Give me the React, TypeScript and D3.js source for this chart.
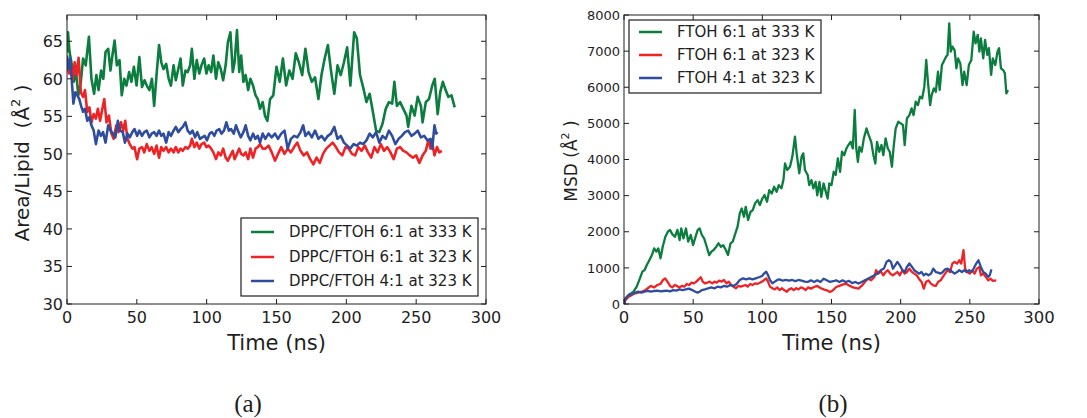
import React from "react";
import * as d3 from "d3";

// ---------- data: (time ns, value) pairs ----------
type Pt = [number, number];

const timeTicks = [0, 50, 100, 150, 200, 250, 300];
const areaTicks = [30, 35, 40, 45, 50, 55, 60, 65];
const msdTicks = [0, 1000, 2000, 3000, 4000, 5000, 6000, 7000, 8000];

const areaLabels = ["DPPC/FTOH 6:1 at 333 K", "DPPC/FTOH 6:1 at 323 K", "DPPC/FTOH 4:1 at 323 K"];
const msdLabels = ["FTOH 6:1 at 333 K", "FTOH 6:1 at 323 K", "FTOH 4:1 at 323 K"];

// Area per lipid (Å^2)
const area61at333: Pt[] = [
  [0, 63.5], [0.7, 66.2], [1.8, 63.6], [3.5, 61.8], [4.8, 59.6], [6.5, 60.9], [8.1, 57.8], [9.9, 59.6],
  [11.5, 62.7], [13.4, 61.8], [15.7, 65.6], [17.5, 60], [19.4, 58], [21, 60.5], [22.6, 58.5], [24.4, 61.1],
  [26, 60], [27.6, 63.6], [29.5, 64], [31.1, 61.1], [32.5, 63.1], [34.1, 65.1], [35.7, 61.8], [37.6, 62.5],
  [39.2, 57.8], [41, 60], [42.6, 59.1], [44.5, 60.9], [46.1, 59.6], [47.9, 61.6], [49.8, 59.1], [51.8, 62.9],
  [53.7, 58.9], [55.5, 59.8], [57.1, 59.1], [59, 58.5], [60.8, 60], [62.4, 56.4], [64.1, 60.5], [65.9, 64.5],
  [67.5, 62.2], [69.1, 61.3], [71, 62], [72.8, 60], [74.4, 59.1], [76.3, 61.8], [77.9, 59.8], [79.7, 61.3],
  [81.3, 62.7], [82.9, 59.1], [84.8, 61.1], [86.4, 60.9], [88.2, 61.8], [89.4, 64], [91.2, 60], [92.9, 62.5],
  [94.7, 60.7], [96.3, 61.8], [98.2, 62.7], [99.8, 60.7], [101.4, 61.8], [103.2, 60.9], [104.8, 63.1], [106.7, 60],
  [108.3, 62.2], [110.1, 61.3], [111.8, 59.8], [113.6, 61.8], [115.2, 64.9], [117, 66.2], [118.7, 60.9], [120, 62.2],
  [121.7, 66.5], [123.3, 60.9], [124.7, 63.1], [126.3, 59.6], [127.9, 60.5], [129.7, 58.5], [131.3, 60], [133.2, 59.1],
  [135, 57.8], [136.6, 57.3], [138.2, 56], [140.1, 56.9], [141.7, 55.1], [143.5, 54.4], [145.4, 57.3], [147.7, 57.8],
  [150, 61.6], [152.3, 59.6], [154.6, 62.7], [156.9, 59.1], [159.2, 61.1], [161.5, 60], [163.8, 63.4], [166, 62.2],
  [168.4, 60.5], [170.7, 64], [173, 60.9], [175.3, 59.6], [177.6, 60.2], [180, 57.3], [182.2, 60.5], [184.5, 62.7],
  [186.8, 64.5], [189, 61.1], [191.4, 58], [193.7, 61.8], [196, 60.5], [198.3, 62.2], [200.6, 64.2], [202.9, 59.1],
  [205.6, 66.2], [207.5, 65.4], [209.8, 60.5], [212, 58.9], [214.4, 56.9], [216.7, 58], [219, 55.6], [221.3, 53.1],
  [223.6, 52.9], [225.9, 54], [228.2, 56], [230.5, 56.9], [232.8, 56.7], [234.4, 59.6], [236.2, 56.4], [238.5, 56.9],
  [240.8, 56], [243.1, 55.1], [244.3, 53.6], [246.6, 56.4], [248.9, 55.1], [251.1, 57.6], [253.4, 56.4], [254.6, 54.2],
  [256.9, 56.9], [259.2, 57.3], [261.5, 59.1], [263.3, 60], [265.4, 55.3], [267.2, 58.2], [269.1, 59.6], [271.1, 58.5],
  [273, 57.6], [275.3, 57.8], [277.6, 56.2],
];

const area61at323: Pt[] = [
  [0, 62.2], [1.4, 60.7], [2.8, 61.8], [4.1, 59.8], [5.5, 62.2], [6.9, 60.5], [8.3, 62.8], [9.9, 58.2],
  [11.5, 57.6], [12.9, 58.5], [14.5, 55.6], [16.1, 56.2], [17.5, 54.2], [19.1, 55.3], [20.7, 54.7], [22.1, 56],
  [23.7, 54.4], [24.9, 55.6], [26.7, 57.3], [28.3, 54.2], [30, 55.1], [31.8, 52.7], [33.4, 52], [35.3, 53.8],
  [36.9, 52.9], [38.7, 54.2], [40.3, 53.1], [41.7, 54.4], [43.3, 52], [44.9, 51.3], [46.8, 50.7], [48.3, 50.9],
  [50.2, 49.3], [51.8, 50.7], [53.7, 50.9], [55.3, 50.2], [57.1, 51.3], [59, 50.4], [60.6, 50.9], [62.4, 50],
  [64.1, 51.1], [65.9, 49.5], [67.5, 50.9], [69.1, 50.4], [71, 50.9], [72.8, 50.2], [74.4, 50.7], [76.3, 50.2],
  [77.9, 50.9], [79.7, 50.2], [81.3, 50.7], [82.9, 50.4], [84.8, 50.9], [86.4, 50.7], [88.2, 51.1], [89.4, 52],
  [91.2, 50.9], [92.9, 51.5], [94.7, 50.7], [96.3, 51.3], [98.2, 51.5], [99.8, 50.9], [101.4, 51.1], [103.2, 50.7],
  [104.8, 50.2], [106.7, 49.3], [108.3, 50.2], [110.1, 49.8], [111.8, 50.7], [113.6, 49.5], [115.2, 49.1], [117, 49.8],
  [118.7, 50.4], [120, 49.3], [121.7, 50], [123.3, 50.7], [124.7, 50], [126.3, 49.8], [127.9, 50.2], [129.7, 49.3],
  [131.3, 50.7], [133.2, 49.5], [135, 50.7], [136.6, 50.9], [138.2, 51.3], [140.1, 50.7], [142, 50.7], [144.3, 51.1],
  [146.6, 50.2], [148.9, 49.1], [151.1, 50], [153.4, 50.9], [155.7, 50], [158, 50.7], [160.3, 50.2], [162.6, 50.9],
  [164.9, 51.5], [167.2, 50.4], [169.5, 49.8], [171.8, 50.2], [174.1, 49.3], [176.4, 48.6], [178.7, 49.5], [181, 48.8],
  [183.3, 50], [185.6, 50.7], [187.9, 51.1], [190.2, 51.5], [192.5, 50.9], [194.8, 50.2], [197.1, 49.8], [199.4, 50.9],
  [201.7, 50.7], [204, 50], [206.3, 49.8], [208.6, 50.9], [210.9, 50.4], [213.2, 51.1], [215.5, 50.2], [217.8, 49.5],
  [220.1, 50.9], [222.4, 50.2], [224.7, 51.3], [227, 50.4], [229.3, 50.9], [231.6, 50.2], [233.9, 49.3], [236.2, 50.7],
  [238.5, 50.9], [240.8, 50.4], [243.1, 50.2], [245.4, 49.8], [247.7, 49.5], [250, 49.8], [252.3, 48.8], [254.6, 49.8],
  [256.9, 50.4], [258.7, 51.8], [260.3, 50.7], [261.5, 51.5], [263.1, 49.8], [264.9, 50.9], [266.6, 50.2], [268.4, 50.4],
];

const area41at323: Pt[] = [
  [0, 63.1], [1.2, 61.3], [2.3, 62.7], [3.5, 59.6], [4.6, 56.7], [6, 58.2], [7.4, 57.8], [8.8, 57.3],
  [10.1, 56.4], [11.5, 55.6], [12.9, 56], [14.5, 54.4], [16.1, 54.9], [17.5, 53.8], [19.1, 53.1], [20.7, 51.3],
  [22.6, 53.1], [24.2, 52.4], [25.8, 52.9], [27.6, 51.5], [29.5, 53.8], [31.1, 53.1], [32.9, 52.7], [34.6, 52.2],
  [36.4, 54.4], [38, 53.1], [39.9, 52.9], [41.5, 51.5], [43.3, 52.7], [44.9, 52.2], [46.8, 52.9], [48.3, 53.3],
  [50.2, 52.4], [51.8, 53.1], [53.7, 52.4], [55.3, 52.9], [57.1, 53.1], [59, 52.2], [60.6, 52.7], [62.4, 52.9],
  [64.1, 52.4], [65.9, 53.1], [67.5, 52.4], [69.1, 52.7], [71, 51.5], [72.8, 52.9], [74.4, 52.4], [76.3, 53.1],
  [77.9, 53.6], [79.7, 52.9], [81.3, 53.3], [82.9, 53.6], [84.8, 54.2], [86.4, 53.1], [88.2, 52.7], [89.9, 53.1],
  [91.7, 52.2], [93.3, 52.9], [95.2, 52], [96.8, 52.2], [98.6, 52.4], [100.2, 51.8], [102.1, 52.7], [103.7, 52.9],
  [105.5, 52.4], [107.1, 53.1], [109, 53.3], [110.6, 52.7], [112.4, 53.1], [114.1, 54.2], [115.9, 53.1], [117.5, 53.3],
  [119.4, 52.7], [121, 53.8], [122.8, 52.9], [124.4, 52.2], [126.3, 52.9], [127.9, 53.8], [129.7, 52.4], [131.3, 51.8],
  [133.2, 52.7], [134.8, 52], [136.6, 52.4], [138.2, 51.5], [140.1, 52.7], [142, 52], [144.3, 52.7], [146.6, 52.2],
  [148.9, 52.7], [151.1, 52], [153.4, 52.7], [155.7, 53.1], [158, 50.7], [160.3, 52], [162.6, 52.4], [164.9, 52.2],
  [167.2, 52.9], [169.1, 53.8], [170.7, 52.4], [173, 52.9], [175.3, 52.2], [177.6, 53.1], [180, 52], [182.2, 52.4],
  [184.5, 51.8], [186.8, 52.4], [189, 52.7], [191.4, 53.6], [193.7, 52], [196, 52.4], [198.3, 51.5], [200.6, 51.1],
  [202.9, 50.7], [205.2, 51.3], [207.5, 51.1], [209.8, 51.5], [212, 51.3], [214.4, 51.8], [216.7, 52.7], [219, 52.2],
  [221.3, 52.9], [223.6, 51.5], [225.9, 52.4], [228.2, 52], [230.5, 53.1], [232.8, 52.4], [235.1, 51.3], [237.4, 52],
  [239.7, 52.4], [242, 52.9], [244.3, 53.1], [246.6, 52.4], [248.9, 52.7], [251.1, 53.1], [253.4, 52.2], [255.7, 52.4],
  [258, 51.8], [260.3, 52], [261.5, 50.7], [263.1, 53.8], [264.3, 52.7], [265.4, 52.9],
];

// Mean square displacement (Å^2)
const msd61at333: Pt[] = [
  [0, 0], [1.1, 157], [3.4, 250], [6.9, 340], [9.2, 480], [11.5, 710], [13.3, 895], [14.9, 940],
  [16.5, 1080], [18.4, 1220], [20.2, 1355], [21.8, 1540], [23.4, 1450], [24.8, 1540], [26.4, 1265], [28, 1585],
  [29.9, 1860], [31.7, 2000], [33.3, 2050], [34.9, 1935], [36.8, 1860], [38.6, 2050], [40.2, 1770], [41.4, 2090],
  [43, 1815], [44.8, 2090], [46.4, 1725], [48.3, 1910], [49.9, 1630], [51.7, 1860], [53.3, 2050], [54.7, 2090],
  [56.3, 1910], [57.9, 1815], [59.8, 1585], [61.6, 1355], [63.2, 1450], [64.8, 1495], [66.7, 1585], [68.3, 1680],
  [70.1, 1585], [71.7, 1630], [73.6, 1495], [75.2, 1355], [77, 1680], [78.6, 1725], [80.5, 1955], [82.1, 2140],
  [83.7, 2510], [85.1, 2645], [86.7, 2415], [88, 2690], [89.7, 2325], [91.5, 2555], [93.1, 2600], [94.7, 2785],
  [96.6, 2875], [98.2, 2740], [100, 2920], [101.6, 3015], [103.4, 2830], [105, 3150], [106.9, 3060], [108.5, 3245],
  [110.3, 3105], [111.9, 3290], [113.8, 3200], [115.3, 3450], [116.4, 3895], [118, 3710], [120, 3800], [121.7, 4080],
  [123.6, 4630], [124.8, 4170], [126.7, 3620], [128.4, 4080], [129.6, 4170], [130.8, 3710], [132.8, 3570], [133.9, 3290],
  [135.5, 3430], [136.9, 3200], [138.5, 3380], [139.7, 3010], [141.3, 3380], [142.6, 2965], [144.3, 3335], [145.9, 3105],
  [147.2, 2920], [148.4, 3335], [150, 3290], [151.6, 3660], [153, 3570], [154.6, 4030], [156.2, 3660], [157.6, 4215],
  [159.2, 4120], [160.8, 4305], [162.2, 4400], [163.8, 4490], [165.4, 4305], [166.8, 5370], [167.9, 4305], [169.1, 3935],
  [170.2, 4350], [171.8, 4215], [173.4, 4585], [175.3, 4860], [176.9, 4675], [178.7, 4490], [180.3, 4120], [181.7, 3890],
  [182.9, 4490], [184.5, 4215], [186.1, 4400], [187.5, 4120], [189.1, 4585], [190.7, 4305], [192.1, 4215], [193.7, 3800],
  [194.8, 4305], [196.4, 4860], [198.3, 5045], [200.1, 5000], [201.7, 4950], [202.9, 4400], [204.5, 5135], [206.3, 5230],
  [207.9, 5415], [209.3, 5230], [210.9, 5600], [212.5, 5505], [213.9, 5740], [215.5, 5690], [217.1, 6015], [218.5, 6755],
  [219.7, 6155], [221.3, 5505], [222.4, 5785], [224, 5970], [225.4, 5875], [227, 6430], [228.2, 5925], [229.8, 6615],
  [231.1, 6710], [232.8, 6845], [233.9, 6895], [235.1, 7770], [236.2, 6985], [237.4, 7125], [239, 7030], [240.3, 6525],
  [241.5, 6800], [243.1, 6660], [244.7, 6060], [245.9, 6430], [247.7, 6060], [249.3, 6615], [251.1, 6755], [252.8, 7540],
  [254.1, 7215], [255.7, 7450], [256.9, 6985], [258, 7355], [259.7, 6800], [261, 7310], [262.6, 6895], [263.8, 7080],
  [265.4, 6340], [266.6, 6800], [268.4, 6615], [270, 6985], [271.1, 7080], [272.5, 6525], [274.1, 6475], [275.3, 6385],
  [276.4, 5830], [277.6, 5920],
];

const msd61at323: Pt[] = [
  [0, 0], [1.1, 110], [3.4, 200], [5.7, 250], [8, 295], [10.3, 315], [12.6, 340], [14.9, 370],
  [17.2, 435], [19.5, 500], [21.8, 460], [24.1, 525], [26.4, 555], [28.2, 665], [29.8, 710], [31.4, 620],
  [33.3, 500], [34.9, 460], [36.7, 525], [38.3, 500], [40.1, 460], [41.7, 500], [43.6, 480], [45.4, 555],
  [47, 525], [48.9, 590], [50.5, 570], [52.3, 620], [53.9, 680], [55.5, 740], [56.9, 620], [58.5, 570],
  [60.1, 590], [61.9, 620], [63.8, 570], [65.4, 620], [67, 590], [68.8, 645], [70.6, 620], [72.2, 665],
  [74.1, 570], [75.7, 620], [77.5, 525], [79.1, 480], [81, 435], [82.6, 500], [84.4, 480], [86, 500],
  [87.8, 525], [89.4, 480], [91.3, 555], [92.9, 525], [94.7, 570], [96.3, 555], [98.2, 590], [99.8, 620],
  [101.4, 665], [102.8, 710], [104.1, 620], [105.5, 480], [107.3, 435], [109, 405], [110.8, 460], [112.4, 385],
  [114.2, 435], [115.8, 385], [117.7, 340], [119.3, 405], [121.1, 435], [122.7, 385], [124.5, 435], [126.1, 405],
  [128, 460], [129.6, 435], [131.4, 385], [133, 460], [135.1, 425], [137.4, 470], [139.7, 500], [142, 445],
  [144.3, 405], [146.6, 380], [148.9, 330], [151.1, 380], [153.4, 470], [155.7, 500], [158, 535], [160.3, 565],
  [162.6, 515], [164.9, 470], [167.2, 445], [169.5, 425], [171.8, 500], [174.1, 610], [176.4, 700], [178.7, 655],
  [181, 750], [182.2, 935], [183.8, 840], [185.6, 905], [187.5, 795], [189.1, 885], [190.7, 935], [192.5, 840],
  [194.4, 795], [196, 840], [197.8, 885], [199.4, 795], [201.3, 935], [202.9, 840], [204.5, 885], [206.3, 980],
  [208.2, 885], [209.8, 840], [211.6, 795], [213.2, 700], [215.1, 610], [216.7, 425], [218.3, 610], [220.1, 655],
  [221.9, 565], [223.6, 515], [225.4, 500], [227, 610], [228.9, 655], [230.5, 750], [232.1, 840], [233.9, 935],
  [235.7, 885], [237.4, 1120], [239, 1165], [240.8, 1120], [242.4, 1210], [243.8, 1120], [245.4, 1490], [246.6, 980],
  [248.2, 885], [250, 840], [251.8, 935], [253.4, 840], [255.1, 980], [256.9, 1025], [258, 795], [259.7, 840],
  [261.5, 750], [263.3, 655], [264.9, 700], [266.6, 640], [269.1, 655],
];

const msd41at323: Pt[] = [
  [0, 0], [1.1, 157], [3.4, 250], [5.7, 275], [8, 315], [10.3, 340], [12.6, 315], [14.9, 340],
  [17.2, 360], [19.5, 340], [21.8, 360], [24.1, 370], [26.4, 350], [28.7, 360], [31, 370], [33.3, 350],
  [35.6, 385], [37.8, 370], [40.1, 405], [42.4, 385], [44.7, 405], [47, 425], [49.3, 385], [51.6, 340],
  [53.2, 315], [54.6, 340], [56.2, 385], [58.5, 405], [60.8, 435], [63.1, 460], [65.4, 435], [67.7, 480],
  [70, 460], [72.2, 500], [74.5, 480], [76.8, 525], [79.1, 500], [81.4, 555], [83.7, 665], [86, 710],
  [88.3, 680], [90.6, 710], [92.9, 680], [95.2, 710], [97.5, 740], [99.8, 775], [101.4, 850], [102.8, 895],
  [104.1, 800], [105.5, 665], [107.3, 570], [109, 620], [110.8, 665], [112.4, 680], [114.7, 645], [117, 665],
  [119.3, 645], [121.6, 665], [123.9, 635], [126.1, 665], [128.4, 645], [130.7, 620], [132.8, 610], [135.1, 655],
  [137.4, 610], [139.7, 655], [142, 610], [144.3, 700], [146.6, 655], [148.9, 610], [151.1, 630], [153.4, 655],
  [155.7, 610], [158, 655], [160.3, 610], [162.6, 640], [164.9, 580], [167.2, 610], [169.5, 565], [171.8, 610],
  [174.1, 655], [176.4, 700], [178.7, 750], [181, 795], [183.3, 840], [185.6, 935], [187.9, 980], [189.8, 1165],
  [191.4, 1210], [193, 1165], [194.4, 980], [196, 1070], [197.6, 1165], [199.4, 1070], [201.3, 935], [202.9, 885],
  [204.5, 1025], [206.3, 1120], [208.2, 1025], [209.8, 935], [211.6, 885], [213.2, 840], [215.1, 885], [216.7, 795],
  [218.3, 840], [220.1, 795], [221.9, 840], [223.6, 980], [225.4, 885], [227, 870], [228.9, 840], [230.5, 885],
  [232.1, 960], [233.9, 980], [235.7, 935], [237.4, 885], [239, 840], [240.8, 885], [242.4, 935], [244.3, 885],
  [245.9, 935], [247.7, 885], [249.5, 935], [251.1, 885], [252.8, 980], [254.6, 1120], [256.2, 1210], [258, 1025],
  [259.7, 885], [261.5, 840], [263.3, 750], [264.4, 795], [265.6, 960],
];

// ---------- styling ----------
const GREEN = "#0b7d3e";
const RED = "#ee2326";
const BLUE = "#2f4d9e";
const INK = "#1e1e1e";
const SANS = "'DejaVu Sans', sans-serif";

type Series = { data: Pt[]; color: string; label: string };

type PanelProps = {
  left: number;
  right: number;
  top: number;
  bottom: number;
  yDomain: [number, number];
  yTicks: number[];
  yTickSize: number;
  xTickSize: number;
  series: Series[];
  lineWidth: number;
  legend: { x: number; y: number; w: number; h: number; lineX: number; textX: number; rows: number[]; fontSize: number };
  yLabel: React.ReactNode;
  clipId: string;
};

function Panel(p: PanelProps) {
  const x = d3.scaleLinear().domain([0, 300]).range([p.left, p.right]);
  const y = d3.scaleLinear().domain(p.yDomain).range([p.bottom, p.top]);
  const line = d3
    .line<Pt>()
    .x((d) => x(d[0]))
    .y((d) => y(d[1]));
  const tick = 5;
  return (
    <g>
      <defs>
        <clipPath id={p.clipId}>
          <rect x={p.left} y={p.top} width={p.right - p.left} height={p.bottom - p.top} />
        </clipPath>
      </defs>
      <g clipPath={`url(#${p.clipId})`}>
        {p.series.map((s, i) => (
          <path key={i} d={line(s.data) || ""} fill="none" stroke={s.color} strokeWidth={p.lineWidth} strokeLinejoin="round" />
        ))}
      </g>
      {/* frame and inward ticks on all four sides */}
      <rect x={p.left} y={p.top} width={p.right - p.left} height={p.bottom - p.top} fill="none" stroke={INK} strokeWidth={1} />
      {timeTicks.map((t) => (
        <g key={"xt" + t}>
          <line x1={x(t)} x2={x(t)} y1={p.bottom} y2={p.bottom - tick} stroke={INK} />
          <line x1={x(t)} x2={x(t)} y1={p.top} y2={p.top + tick} stroke={INK} />
          <text x={x(t)} y={p.bottom + 19} textAnchor="middle" fontSize={p.xTickSize} fill={INK} fontFamily={SANS}>
            {t}
          </text>
        </g>
      ))}
      {p.yTicks.map((v) => (
        <g key={"yt" + v}>
          <line x1={p.left} x2={p.left + tick} y1={y(v)} y2={y(v)} stroke={INK} />
          <line x1={p.right} x2={p.right - tick} y1={y(v)} y2={y(v)} stroke={INK} />
          <text x={p.left - 4} y={y(v)} dy="0.36em" textAnchor="end" fontSize={p.yTickSize} fill={INK} fontFamily={SANS}>
            {v}
          </text>
        </g>
      ))}
      <text x={(p.left + p.right) / 2} y={p.bottom + 46} textAnchor="middle" fontSize={21} fill={INK} fontFamily={SANS}>
        Time (ns)
      </text>
      {p.yLabel}
      {/* legend */}
      <rect x={p.legend.x} y={p.legend.y} width={p.legend.w} height={p.legend.h} fill="#fff" stroke={INK} strokeWidth={1.2} />
      {p.series.map((s, i) => (
        <g key={"lg" + i}>
          <line x1={p.legend.lineX} x2={p.legend.lineX + 23} y1={p.legend.rows[i]} y2={p.legend.rows[i]} stroke={s.color} strokeWidth={2.5} />
          <text x={p.legend.textX} y={p.legend.rows[i]} dy="0.36em" fontSize={p.legend.fontSize} fill={INK} fontFamily={SANS}>
            {s.label}
          </text>
        </g>
      ))}
    </g>
  );
}

export default function App() {
  return (
    <svg width={1087} height={418} style={{ position: "absolute", left: 0, top: 0, background: "#fff" }}>
      <rect width={1087} height={418} fill="#fff" />
      <Panel
        left={67}
        right={486}
        top={15}
        bottom={304}
        yDomain={[30, 68.5]}
        yTicks={areaTicks}
        yTickSize={16}
        xTickSize={16}
        lineWidth={2.6}
        series={[
          { data: area61at333, color: GREEN, label: areaLabels[0] },
          { data: area61at323, color: RED, label: areaLabels[1] },
          { data: area41at323, color: BLUE, label: areaLabels[2] },
        ]}
        legend={{ x: 241, y: 218, w: 237, h: 78, lineX: 251, textX: 289, rows: [232, 257, 281], fontSize: 15 }}
        clipId="clipA"
        yLabel={
          <text transform="translate(29,163) rotate(-90)" textAnchor="middle" fontSize={20} fill={INK} fontFamily={SANS} style={{ whiteSpace: "pre" }}>
            {"Area/Lipid  (Å"}
            <tspan dy={-9} fontSize={13}>2</tspan>
            <tspan dy={9}>{" )"}</tspan>
          </text>
        }
      />
      <Panel
        left={624}
        right={1039}
        top={15}
        bottom={304}
        yDomain={[0, 8000]}
        yTicks={msdTicks}
        yTickSize={13}
        xTickSize={16.5}
        lineWidth={2.3}
        series={[
          { data: msd61at333, color: GREEN, label: msdLabels[0] },
          { data: msd61at323, color: RED, label: msdLabels[1] },
          { data: msd41at323, color: BLUE, label: msdLabels[2] },
        ]}
        legend={{ x: 629, y: 20, w: 192, h: 73, lineX: 639, textX: 677, rows: [32, 55, 78], fontSize: 15 }}
        clipId="clipB"
        yLabel={
          <text transform="translate(577,161) rotate(-90)" textAnchor="middle" fontSize={17} fill={INK} fontFamily={SANS} style={{ whiteSpace: "pre" }}>
            {"MSD (Å"}
            <tspan dy={-8} fontSize={11}>2</tspan>
            <tspan dy={8}>{" )"}</tspan>
          </text>
        }
      />
      <text x={248} y={412} textAnchor="middle" fontSize={25} fill={INK} fontFamily="'Liberation Serif', serif">
        (a)
      </text>
      <text x={833} y={412} textAnchor="middle" fontSize={25} fill={INK} fontFamily="'Liberation Serif', serif">
        (b)
      </text>
    </svg>
  );
}
